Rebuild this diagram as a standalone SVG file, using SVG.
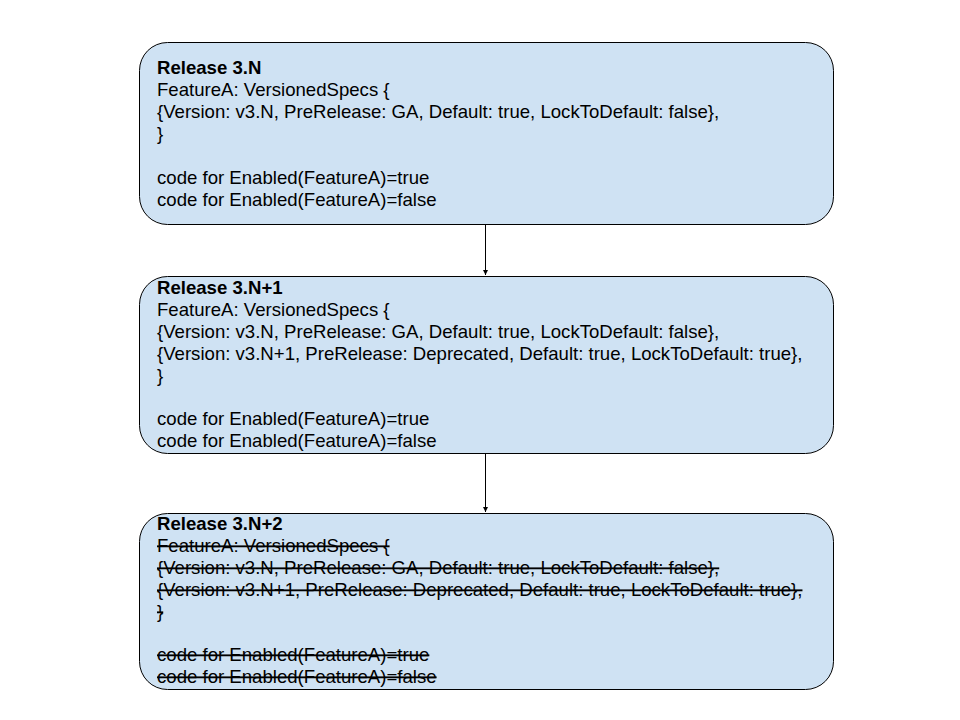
<svg xmlns="http://www.w3.org/2000/svg" width="960" height="720" viewBox="0 0 960 720">
<defs>
<style>
.box{fill:#cfe2f3;stroke:#000000;stroke-width:1}
.t{font-family:"Liberation Sans",Arial,sans-serif;font-size:18.6px;fill:#000000}
.b{font-weight:bold}
.s{text-decoration:line-through}
.c{stroke:#000000;stroke-width:1;fill:none}
</style>
<marker id="ah" viewBox="0 0 10 10" refX="10" refY="5" markerWidth="5" markerHeight="5" orient="auto" markerUnits="userSpaceOnUse">
<path d="M0,0 L10,5 L0,10 z" fill="#000000"/>
</marker>
</defs>
<rect width="960" height="720" fill="#ffffff"/>
<g id="connectors">
<line class="c" x1="485.5" y1="224" x2="485.5" y2="275" marker-end="url(#ah)"/>
<line class="c" x1="485.5" y1="453" x2="485.5" y2="512" marker-end="url(#ah)"/>
</g>
<g id="release-3N">
<rect class="box" x="139.5" y="42.5" width="694" height="182" rx="28" ry="28"/>
<text class="t">
<tspan class="b" x="157" y="74">Release 3.N</tspan>
<tspan x="157" y="96">FeatureA: VersionedSpecs {</tspan>
<tspan x="157" y="118">{Version: v3.N, PreRelease: GA, Default: true, LockToDefault: false},</tspan>
<tspan x="157" y="140">}</tspan>
<tspan x="157" y="184">code for Enabled(FeatureA)=true</tspan>
<tspan x="157" y="206">code for Enabled(FeatureA)=false</tspan>
</text>
</g>
<g id="release-3N1">
<rect class="box" x="139.5" y="276.5" width="694" height="177" rx="28" ry="28"/>
<text class="t">
<tspan class="b" x="157" y="294">Release 3.N+1</tspan>
<tspan x="157" y="316">FeatureA: VersionedSpecs {</tspan>
<tspan x="157" y="338">{Version: v3.N, PreRelease: GA, Default: true, LockToDefault: false},</tspan>
<tspan x="157" y="360">{Version: v3.N+1, PreRelease: Deprecated, Default: true, LockToDefault: true},</tspan>
<tspan x="157" y="382">}</tspan>
<tspan x="157" y="425">code for Enabled(FeatureA)=true</tspan>
<tspan x="157" y="447">code for Enabled(FeatureA)=false</tspan>
</text>
</g>
<g id="release-3N2">
<rect class="box" x="139.5" y="513.5" width="694" height="176" rx="28" ry="28"/>
<text class="t b" x="157" y="530">Release 3.N+2</text>
<text class="t s" x="157" y="552">FeatureA: VersionedSpecs {</text>
<text class="t s" x="157" y="574">{Version: v3.N, PreRelease: GA, Default: true, LockToDefault: false},</text>
<text class="t s" x="157" y="596">{Version: v3.N+1, PreRelease: Deprecated, Default: true, LockToDefault: true},</text>
<text class="t s" x="157" y="618">}</text>
<text class="t s" x="157" y="661">code for Enabled(FeatureA)=true</text>
<text class="t s" x="157" y="683">code for Enabled(FeatureA)=false</text>
</g>
</svg>
